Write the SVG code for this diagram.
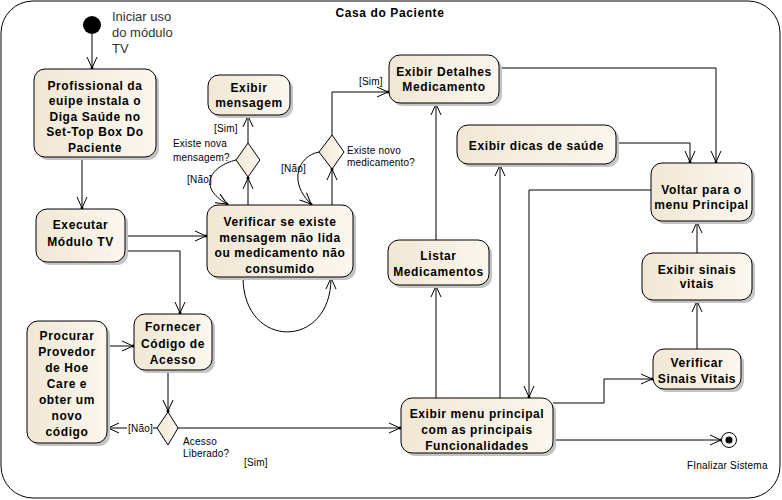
<svg xmlns="http://www.w3.org/2000/svg" width="782" height="500" viewBox="0 0 782 500">
<style>
.box{fill:url(#g);stroke:#000;stroke-width:1}
.sh{fill:#c4c4c4}
.t{font-family:"Liberation Sans",Arial,sans-serif;font-weight:bold;font-size:12px;letter-spacing:0.6px;text-anchor:middle;fill:#000}
.s{font-family:"Liberation Sans",Arial,sans-serif;font-size:10px;letter-spacing:0.2px;fill:#000}
.c{fill:none;stroke:#000;stroke-width:1}
.a{marker-end:url(#arr)}
</style>
<defs>
<linearGradient id="g" x1="0" y1="0" x2="1" y2="0">
<stop offset="0" stop-color="#f1e7d4"/>
<stop offset="1" stop-color="#fbf7ef"/>
</linearGradient>
<marker id="arr" markerUnits="userSpaceOnUse" markerWidth="14" markerHeight="14" viewBox="-12 -7 14 14" refX="0" refY="0" orient="auto">
<path d="M-11,-5 L0,0 L-11,5" fill="none" stroke="#000" stroke-width="1"/>
<circle cx="0" cy="0" r="1.5" fill="#000"/>
</marker>
</defs>
<rect x="1" y="1" width="779" height="497" rx="32" ry="32" fill="#fff" stroke="#000" stroke-width="1"/>
<text x="390" y="17" class="t">Casa do Paciente</text>

<g id="connectors">
<path class="c a" d="M92,34 L92,68"/>
<path class="c a" d="M82,157 L82,208"/>
<path class="c a" d="M125,236 L206,236"/>
<path class="c a" d="M125,251 L180,251 L180,313"/>
<path class="c a" d="M107,346 L133,346"/>
<path class="c a" d="M168,370 L168,411"/>
<path class="c" d="M157,428 L153,428"/>
<path class="c a" d="M127,428 L108,428"/>
<path class="c a" d="M178,428 L400,428"/>
<path class="c a" d="M248,205 L248,178"/>
<path class="c a" d="M248,143 L248,116"/>
<path class="c a" d="M236,160 C212,166 196,186 227,204"/>
<path class="c a" d="M332,205 L332,169"/>
<path class="c a" d="M332,135 L332,92 L388,92"/>
<path class="c a" d="M319,152 C298,156 288,182 311,204"/>
<path class="c a" d="M243,277 C243,350 331,350 331,278"/>
<path class="c a" d="M436,398 L436,286"/>
<path class="c a" d="M436,240 L436,104"/>
<path class="c a" d="M500,398 L500,165"/>
<path class="c a" d="M499,68 L716,68 L716,162"/>
<path class="c a" d="M616,143 L690,143 L690,162"/>
<path class="c a" d="M651,190 L529,190 L529,397"/>
<path class="c a" d="M697,253 L697,222"/>
<path class="c a" d="M697,349 L697,301"/>
<path class="c a" d="M553,403 L604,403 L604,379 L652,379"/>
<path class="c a" d="M553,440 L721,440"/>
</g>

<g id="labels">
<text class="s" x="214" y="132">[Sim]</text>
<text class="s" x="173" y="147">Existe nova</text>
<text class="s" x="173" y="161">mensagem?</text>
<text class="s" x="187" y="183">[Não]</text>
<text class="s" x="281" y="172">[Não]</text>
<text class="s" x="347" y="154">Existe novo</text>
<text class="s" x="347" y="166">medicamento?</text>
<text class="s" x="359" y="85">[Sim]</text>
<text class="s" x="128" y="432">[Não]</text>
<text class="s" x="183" y="445">Acesso</text>
<text class="s" x="183" y="457">Liberado?</text>
<text class="s" x="244" y="466">[Sim]</text>
</g>

<g id="start">
<circle cx="92" cy="25" r="9" fill="#000"/>
<text x="112" y="21" font-family="Liberation Sans, Arial, sans-serif" font-size="13" fill="#333">Iniciar uso</text>
<text x="112" y="37" font-family="Liberation Sans, Arial, sans-serif" font-size="13" fill="#333">do módulo</text>
<text x="112" y="53" font-family="Liberation Sans, Arial, sans-serif" font-size="13" fill="#333">TV</text>
</g>

<g id="end">
<circle cx="729" cy="440" r="7.5" fill="#fff" stroke="#000"/>
<circle cx="729" cy="440" r="3.5" fill="#000"/>
<text class="s" x="687" y="469">FInalizar Sistema</text>
</g>

<g id="n-profissional">
<rect class="sh" x="37" y="72" width="122" height="88" rx="11"/>
<rect class="box" x="34" y="69" width="122" height="88" rx="11"/>
<text class="t" x="95" y="89.5">Profissional da</text>
<text class="t" x="95" y="105">euipe instala o</text>
<text class="t" x="95" y="120.5">Diga Saúde no</text>
<text class="t" x="95" y="136">Set-Top Box Do</text>
<text class="t" x="95" y="151.5">Paciente</text>
</g>

<g id="n-executar">
<rect class="sh" x="39" y="212" width="89" height="53" rx="11"/>
<rect class="box" x="36" y="209" width="89" height="53" rx="11"/>
<text class="t" x="80.5" y="229">Executar</text>
<text class="t" x="80.5" y="246">Módulo TV</text>
</g>

<g id="n-verificar">
<rect class="sh" x="210" y="208" width="146" height="72" rx="11"/>
<rect class="box" x="207" y="205" width="146" height="72" rx="11"/>
<text class="t" x="280" y="226">Verificar se existe</text>
<text class="t" x="280" y="241.5">mensagem não lida</text>
<text class="t" x="280" y="257">ou medicamento não</text>
<text class="t" x="280" y="272.5">consumido</text>
</g>

<g id="n-mensagem">
<rect class="sh" x="211" y="78" width="82" height="40" rx="11"/>
<rect class="box" x="208" y="75" width="82" height="40" rx="11"/>
<text class="t" x="249" y="92">Exibir</text>
<text class="t" x="249" y="107">mensagem</text>
</g>

<g id="n-detalhes">
<rect class="sh" x="392" y="58" width="110" height="48" rx="11"/>
<rect class="box" x="389" y="55" width="110" height="48" rx="11"/>
<text class="t" x="444" y="76">Exibir Detalhes</text>
<text class="t" x="444" y="91">Medicamento</text>
</g>

<g id="n-dicas">
<rect class="sh" x="460" y="128" width="159" height="39" rx="11"/>
<rect class="box" x="457" y="125" width="159" height="39" rx="11"/>
<text class="t" x="536.5" y="150">Exibir dicas de saúde</text>
</g>

<g id="n-voltar">
<rect class="sh" x="654" y="166" width="101" height="58" rx="11"/>
<rect class="box" x="651" y="163" width="101" height="58" rx="11"/>
<text class="t" x="701.5" y="194">Voltar para o</text>
<text class="t" x="701.5" y="209">menu Principal</text>
</g>

<g id="n-sinais">
<rect class="sh" x="645" y="256" width="110" height="47" rx="11"/>
<rect class="box" x="642" y="253" width="110" height="47" rx="11"/>
<text class="t" x="697" y="274">Exibir sinais</text>
<text class="t" x="697" y="288">vitais</text>
</g>

<g id="n-verificar-sinais">
<rect class="sh" x="656" y="352" width="88" height="40" rx="11"/>
<rect class="box" x="653" y="349" width="88" height="40" rx="11"/>
<text class="t" x="697" y="367">Verificar</text>
<text class="t" x="697" y="383">Sinais Vitais</text>
</g>

<g id="n-menu">
<rect class="sh" x="404" y="401" width="152" height="55" rx="11"/>
<rect class="box" x="401" y="398" width="152" height="55" rx="11"/>
<text class="t" x="477" y="418">Exibir menu principal</text>
<text class="t" x="477" y="434">com as principais</text>
<text class="t" x="477" y="450">Funcionalidades</text>
</g>

<g id="n-listar">
<rect class="sh" x="391" y="243" width="101" height="45" rx="11"/>
<rect class="box" x="388" y="240" width="101" height="45" rx="11"/>
<text class="t" x="438.5" y="260">Listar</text>
<text class="t" x="438.5" y="276">Medicamentos</text>
</g>

<g id="n-fornecer">
<rect class="sh" x="137" y="317" width="78" height="56" rx="11"/>
<rect class="box" x="134" y="314" width="78" height="56" rx="11"/>
<text class="t" x="173" y="331">Fornecer</text>
<text class="t" x="173" y="348">Código de</text>
<text class="t" x="173" y="364">Acesso</text>
</g>

<g id="n-procurar">
<rect class="sh" x="30" y="324" width="80" height="122" rx="11"/>
<rect class="box" x="27" y="321" width="80" height="122" rx="11"/>
<text class="t" x="67" y="340">Procurar</text>
<text class="t" x="67" y="356">Provedor</text>
<text class="t" x="67" y="372">de Hoe</text>
<text class="t" x="67" y="388">Care e</text>
<text class="t" x="67" y="404">obter um</text>
<text class="t" x="67" y="420">novo</text>
<text class="t" x="67" y="436">código</text>
</g>

<g id="d-mensagem">
<polygon class="box" points="248,143 260,160 248,177 236,160"/>
</g>
<g id="d-medicamento">
<polygon class="box" points="332,135 344,152 332,169 319,152"/>
</g>
<g id="d-acesso">
<polygon class="box" points="168,412 178,428 168,445 157,428"/>
</g>
</svg>
